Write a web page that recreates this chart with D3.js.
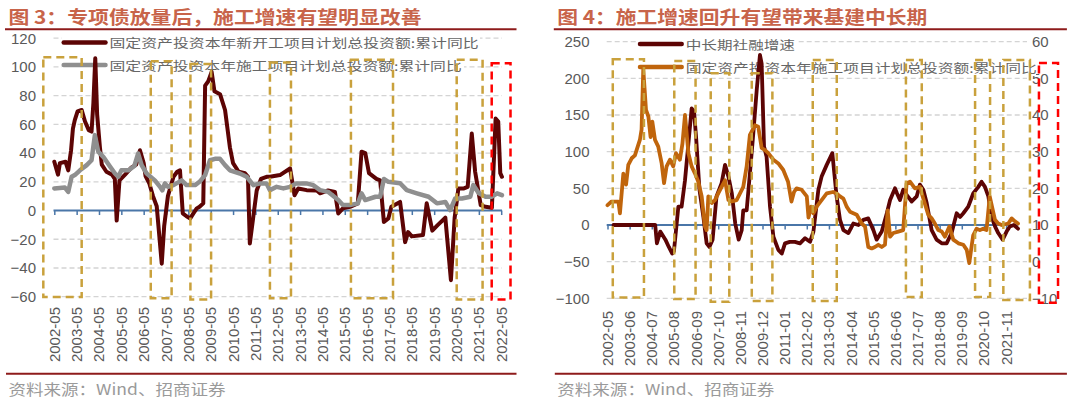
<!DOCTYPE html>
<html><head><meta charset="utf-8">
<script src="https://cdn.jsdelivr.net/npm/d3@7"></script>
<style>body{margin:0;background:#fff}svg{display:block}</style>
</head><body>
<svg id="c" width="1080" height="397"></svg>
<script>
// ---------------- DATA (x = months since 2002-05) ----------------
const leftTickLabels = ["2002-05","2003-05","2004-05","2005-05","2006-05","2007-05","2008-05","2009-05","2010-05","2011-05","2012-05","2013-05","2014-05","2015-05","2016-05","2017-05","2018-05","2019-05","2020-05","2021-05","2022-05"];
const rightTickLabels = ["2002-05","2003-06","2004-07","2005-08","2006-09","2007-10","2008-11","2009-12","2011-01","2012-02","2013-03","2014-04","2015-05","2016-06","2017-07","2018-08","2019-09","2020-10","2021-11"];
const leftYTicks = [120,100,80,60,40,20,0,-20,-40,-60];
const rightYTicksL = [250,200,150,100,50,0,-50,-100];
const rightYTicksR = [60,50,40,30,20,10,0,-10];

// 固定资产投资本年新开工项目计划总投资额:累计同比
const leftNewStart = [[0,34],[2,25],[3,33],[6,34],[7.5,28],[9,42],[10,57],[11,63],[12.5,69],[14.7,70],[16.5,62],[18.5,56],[20,55],[21,75],[22,106],[23,67],[24.5,44],[25.5,32],[28,27],[31,25],[32.5,22],[33.5,-7],[35,21],[38,25],[41.5,30],[44,32],[46,42],[48,33],[49,24],[51,19],[53,10],[55,3],[57.7,-37],[59,-11],[61,10],[64,23.5],[66,27],[67.5,28],[69,-2],[71,-4],[73,-5.5],[74.7,-2],[76.5,1.5],[78,2.6],[80,5],[81,87],[82.7,90],[84.5,96.5],[86,83],[89,81],[91.7,70],[94.3,44],[96,33],[99,27],[102.4,26],[104,23.5],[105,-23],[108.7,14],[111,22],[114,23.5],[115.8,23.5],[121.2,24.7],[126.6,29.3],[129,10.7],[131,15.4],[135.5,14.2],[141,14],[142.7,12],[147,14],[150.7,13],[152.5,-2],[155,1.5],[158.8,2.6],[163,5],[165,41],[167,40],[169,26],[173,22],[175,21],[177,-8],[179.4,-5.5],[181,2.6],[185.7,6],[188.4,-22],[190,-15],[192,-18],[198,-17],[200,5],[203,-14],[206,-10],[210,-5],[213,-48.5],[215,-5],[217,15.4],[220,15.4],[222,16.5],[224.2,53.6],[226,27],[229,3.8],[231.6,2.6],[235,2],[237,64],[238.4,62],[239.5,26],[240.4,23.5]];
// 固定资产投资本年施工项目计划总投资额:累计同比
const leftConstruction = [[0,15.4],[5.7,16],[7.5,13],[9.3,23.5],[11,24.7],[13.8,28],[17.4,31.6],[20,35],[21.8,52.5],[23.6,41],[26.3,37.4],[30,30.5],[32.6,25.8],[34.4,23.5],[36,28],[39.8,28],[43,31],[45,39.7],[46.9,31.6],[49.6,25.8],[54,21],[56.8,16.5],[58,14],[59.4,18.9],[61,16.5],[64,17.7],[68.4,21],[71,17.7],[75.6,17.7],[78,20],[81,24.7],[83.6,35],[86.3,36],[89,36],[91.7,31.6],[94.3,28],[99.7,25.8],[103.3,23.5],[106.9,17.7],[110.5,18.9],[114,18.9],[115.8,14.2],[119.4,16.5],[123,15.4],[126.6,16.5],[130,18.9],[135.5,18.9],[139,17.7],[142.7,14.2],[147,13],[152.5,7.3],[155,3.8],[158.8,3.8],[163,5],[165,12],[167,7.3],[172.5,9.6],[175,9.6],[177,22],[179.4,20],[185.7,19],[189.3,14.2],[194.7,12],[201,9.6],[205.5,5],[210,6],[212.6,0.3],[215.3,8.4],[218.9,8.4],[223.4,9.6],[225,17.7],[228,12],[231.6,9.6],[235,9.6],[237.8,12],[240.4,10.7]];
// 中长期社融增速 (left axis)
const rightFinancing = [[3.5,0],[28,0],[29,-25],[31,-9],[34,-20],[36,-30],[38,-39],[39,-36],[41.6,25],[43.5,25],[45.5,61],[47.5,111],[49.4,159],[50.8,155],[52,120],[54,48],[56.3,11],[58.2,-25],[59.8,-30],[61.7,-20],[64,39],[67,57],[69,82],[71,66],[73,43],[75,2],[77,-20],[78.8,-7],[79.7,20],[81.7,20],[83.6,70],[85.6,125],[87.6,184],[89.5,232],[90.5,220],[91.9,107],[93.4,93],[95.4,25],[97.4,-16],[100.3,-34],[102.3,-39],[104.2,-25],[107,-23],[110,-23],[113,-25],[116,-18],[118.9,-23],[120.9,-9],[123.8,48],[125.7,66],[128.7,82],[132,98],[134.5,39],[136.5,7],[138.5,-7],[141.4,-11],[144.3,2],[147.3,0],[150.2,7],[153.1,9],[156.1,-7],[158,-20],[161,-9],[164,16],[165.9,34],[168.8,50],[170,43],[171.7,34],[173.6,48],[175.6,41],[178.6,32],[181.5,39],[183.4,55],[185.4,48],[187.4,30],[190.3,-7],[193.2,-20],[196.2,-25],[199.1,-25],[202,-11],[205,16],[207,11],[208.9,16],[211.8,25],[214.7,43],[217.7,52],[219.6,59],[221.6,52],[223.6,39],[225.5,11],[227.5,-2],[229.4,-11],[232,-20],[234.3,-9],[236.2,-2],[238.6,0],[241,-5]];
// 固定资产投资本年施工项目计划总投资额:累计同比 (right axis)
const rightConstruction = [[0,15.4],[2.4,16.4],[6.4,16.4],[7.3,13.2],[9.3,24],[10.9,21],[12.2,26.4],[14.2,28.2],[16.1,29],[19,33.2],[20,36],[21,52.5],[22.6,41.4],[24,39.6],[25.3,34],[26.3,38.2],[27.9,33.2],[29.8,31.4],[31.8,26.8],[33.2,21.4],[34.7,26],[36.7,27.8],[38.6,26],[40.2,29.6],[42.5,27.8],[44,32.2],[45.5,40],[47.5,29.6],[49.4,26],[51.4,24],[53.3,21.8],[55.3,17.8],[57.2,9.6],[58.2,8.6],[59.2,17.8],[61.2,16],[63.1,16.8],[65,18.6],[67,20.4],[69,22.2],[71,16.8],[72.9,16.4],[75.8,16.8],[77.8,18.6],[79.7,20.4],[81.7,26],[83.6,34.6],[86.6,37.2],[88.5,36.8],[90.5,31],[92.5,30.4],[94.4,29.6],[97.4,27.8],[100.3,26.8],[103.2,25],[106,21.8],[108,16.4],[109.5,19],[111,20],[114,19.6],[117,17.8],[118,12],[119.5,15],[120.9,13.2],[122.8,15],[125.7,16.8],[128.7,18.6],[132.4,19],[134.5,18.6],[136.5,17.8],[138.5,17.2],[140.4,15],[142.4,13.6],[144.3,13.2],[146.3,12.8],[149.2,10.4],[151.2,9.6],[153.1,4],[155.1,3.6],[157,4],[159,4.6],[161,4],[162.9,4.6],[164.5,14],[165.9,6.8],[167.8,7.8],[170.7,8.2],[173.6,8.6],[175.6,21.4],[177.6,21.8],[180.5,20],[183.4,20.4],[185.4,17.2],[188.3,12.8],[190.3,11.8],[192.2,10.4],[194.2,8.6],[196.2,8.2],[198.1,6.8],[200.7,9.6],[203,6],[206,5],[208.9,4.6],[210.9,3.2],[212.4,-0.4],[213.7,4],[214.7,7.2],[216.7,9],[218.6,8.6],[220.5,9],[222.5,8.6],[224.4,17.8],[227.5,11.4],[229.4,10.4],[231.4,10],[235.3,10.4],[237.3,11.8],[239.2,11],[241,10.4]];

// highlight boxes: [monthFrom, monthTo, valueTop, valueBottom]
const leftGoldBoxes = [[-5.9,14.7,106.7,-60.2],[51.8,63,104,-61],[73.1,84.2,102,-62],[115.8,127.1,103,-61],[159.3,181.9,105,-61],[216.1,230,105,-62]];
const leftRedBoxes = [[234.9,245,102.5,-62]];
const rightGoldBoxes = [[3.1,21.4,226,-99],[39.2,51.7,223.6,-101],[60.6,71.5,207,-104.6],[84.7,96.8,207,-103.6],[120.5,134.6,225,-103.6],[175.2,184.5,225,-98.2],[215.8,224.6,225,-98.2],[232.4,248,225,-102.3]];
const rightRedBoxes = [[253.3,264.5,221,-106]];

// ---------------- STYLE ----------------
const NUM = "'Liberation Sans', Arial, sans-serif";
const CJK = "'Noto Sans CJK SC', 'Noto Sans', sans-serif";
const TITLE_C = "#c8644a", RULE_C = "#8e1b1b", AXIS_C = "#4a76a8", GRID_C = "#d4d4d4";
const GOLD = "#c9a13c", RED_BOX = "#ff0000";
const MAROON = "#5c0404", GRAY = "#8f8f8f", ORANGE = "#c0650c";
const LBL_C = "#595959";

const svg = d3.select("#c");

function header(x0, x1, title, titleLen) {
  svg.append("text").attr("x", x0 + 3.5).attr("y", 15.5).attr("dominant-baseline", "central")
    .attr("font-family", CJK).attr("font-weight", 700).attr("font-size", 18).attr("fill", TITLE_C)
    .attr("textLength", titleLen).attr("lengthAdjust", "spacingAndGlyphs").text(title);
  svg.append("line").attr("x1", x0).attr("x2", x1).attr("y1", 29.3).attr("y2", 29.3)
    .attr("stroke", RULE_C).attr("stroke-width", 2);
  svg.append("line").attr("x1", x0 + 1).attr("x2", x1).attr("y1", 373.7).attr("y2", 373.7)
    .attr("stroke", RULE_C).attr("stroke-width", 2);
  svg.append("text").attr("x", x0 + 3.5).attr("y", 388).attr("dominant-baseline", "central")
    .attr("font-family", CJK).attr("font-size", 15).attr("fill", "#9a9a9a")
    .attr("textLength", 217).attr("lengthAdjust", "spacingAndGlyphs").text("资料来源：Wind、招商证券");
}

function gridlines(g, ticks, y, xa, xb) {
  g.selectAll(null).data(ticks.filter(t => t !== 0)).join("line")
    .attr("x1", xa).attr("x2", xb).attr("y1", d => y(d)).attr("y2", d => y(d))
    .attr("stroke", GRID_C).attr("stroke-width", 1.3).attr("stroke-dasharray", "5,3");
}

function yLabels(axisGen, x) {
  const g = svg.append("g").attr("transform", `translate(${x},0)`).call(axisGen);
  g.select(".domain").remove();
  g.selectAll("line").remove();
  g.selectAll("text").attr("font-family", NUM).attr("font-size", 15).attr("fill", LBL_C);
}

function zeroAxis(x, y, tickVals, xa, xb) {
  const g = svg.append("g").attr("transform", `translate(0,${y(0)})`)
    .call(d3.axisBottom(x).tickValues(tickVals).tickSize(4.5).tickSizeOuter(0).tickFormat(""));
  g.select(".domain").remove();
  g.append("line").attr("x1", xa).attr("x2", xb).attr("stroke", AXIS_C).attr("stroke-width", 2);
  g.selectAll(".tick line").attr("stroke", AXIS_C).attr("stroke-width", 1.5);
}

function xLabels(x, labels, step, top) {
  svg.append("g").selectAll(null).data(labels).join("text")
    .attr("transform", (d, i) => `translate(${x(i * step)},${top}) rotate(-90)`)
    .attr("text-anchor", "end").attr("dominant-baseline", "central")
    .attr("font-family", NUM).attr("font-size", 15).attr("fill", LBL_C).text(d => d);
}

function legendRow(sx0, sx1, y, color, text, tx1, bgx1) {
  svg.append("rect").attr("x", sx0 - 2).attr("y", y - 9).attr("width", bgx1 - sx0 + 2).attr("height", 18).attr("fill", "#fff");
  svg.append("line").attr("x1", sx0).attr("x2", sx1).attr("y1", y).attr("y2", y)
    .attr("stroke", color).attr("stroke-width", 4.5).attr("stroke-linecap", "round");
  svg.append("text").attr("x", sx1 + 4).attr("y", y).attr("dominant-baseline", "central")
    .attr("font-family", CJK).attr("font-size", 12).attr("fill", "#666")
    .attr("textLength", tx1 - sx1 - 4).attr("lengthAdjust", "spacingAndGlyphs").text(text);
}

function seriesLine(x, y, data, color, w) {
  svg.append("path").datum(data)
    .attr("d", d3.line().x(d => x(d[0])).y(d => y(d[1])))
    .attr("fill", "none").attr("stroke", color).attr("stroke-width", w)
    .attr("stroke-linejoin", "round").attr("stroke-linecap", "round");
}

function boxes(x, y, list, color) {
  svg.append("g").selectAll(null).data(list).join("rect")
    .attr("x", d => x(d[0])).attr("y", d => y(d[2]))
    .attr("width", d => x(d[1]) - x(d[0])).attr("height", d => y(d[3]) - y(d[2]))
    .attr("fill", "none").attr("stroke", color).attr("stroke-width", 2.5).attr("stroke-dasharray", "8,5");
}

// ---------------- LEFT PANEL ----------------
const xL = d3.scaleLinear().domain([0, 240]).range([54.3, 501.2]);
const yL = d3.scaleLinear().domain([-60, 120]).range([296.7, 38.2]);
header(5, 516.5, "图 3：专项债放量后，施工增速有望明显改善", 413);
gridlines(svg.append("g"), leftYTicks, yL, 53.5, 502);
yLabels(d3.axisLeft(yL).tickValues(leftYTicks).tickSize(0).tickPadding(0), 36);
zeroAxis(xL, yL, d3.range(0, 241, 12), 53.5, 502);
xLabels(xL, leftTickLabels, 12, 307);
legendRow(63.7, 105.5, 42.5, MAROON, "固定资产投资本年新开工项目计划总投资额:累计同比", 478.6, 480);
legendRow(63.7, 105.5, 65, GRAY, "固定资产投资本年施工项目计划总投资额:累计同比", 461.7, 464);
seriesLine(xL, yL, leftNewStart, MAROON, 4);
seriesLine(xL, yL, leftConstruction, GRAY, 4.5);
boxes(xL, yL, leftGoldBoxes, GOLD);
boxes(xL, yL, leftRedBoxes, RED_BOX);

// ---------------- RIGHT PANEL ----------------
const xR = d3.scaleLinear().domain([0, 241]).range([607.5, 1018]);
const yRL = d3.scaleLinear().domain([-100, 250]).range([298.3, 41.7]);
const yRR = d3.scaleLinear().domain([-10, 60]).range([298.3, 41.7]);
header(553.8, 1066.9, "图 4：施工增速回升有望带来基建中长期", 370);
gridlines(svg.append("g"), rightYTicksL, yRL, 606.7, 1027);
yLabels(d3.axisLeft(yRL).tickValues(rightYTicksL).tickSize(0).tickPadding(0), 589.5);
yLabels(d3.axisRight(yRR).tickValues(rightYTicksR).tickSize(0).tickPadding(0), 1032);
zeroAxis(xR, yRL, d3.range(0, 241, 13), 606.7, 1018);
xLabels(xR, rightTickLabels, 13, 311);
legendRow(640, 681.7, 44, MAROON, "中长期社融增速", 795, 797);
legendRow(640, 681.7, 67, ORANGE, "固定资产投资本年施工项目计划总投资额:累计同比", 1036.7, 1036);
seriesLine(xR, yRL, rightFinancing, MAROON, 3.8);
seriesLine(xR, yRR, rightConstruction, ORANGE, 3.8);
boxes(xR, yRL, rightGoldBoxes, GOLD);
boxes(xR, yRL, rightRedBoxes, RED_BOX);
</script>
</body></html>
